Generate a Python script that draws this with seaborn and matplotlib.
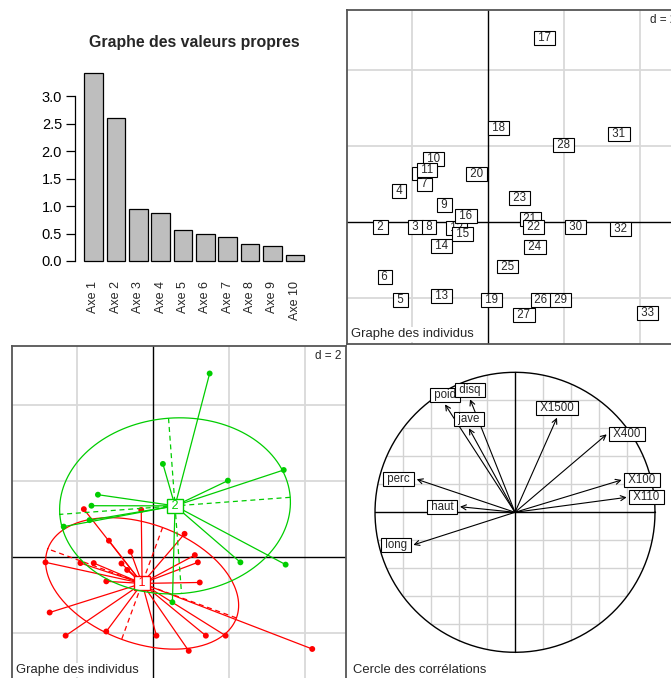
import numpy as np
import pandas as pd
import matplotlib
matplotlib.use("Agg")
import matplotlib.pyplot as plt
import seaborn as sns

# Valeurs propres de l'ACP
axe_names = [f"Axe {i}" for i in range(1, 11)]
eigenvalues = [3.42, 2.61, 0.94, 0.88, 0.56, 0.49, 0.43, 0.31, 0.27, 0.10]

# Coordonnées des individus (plan 1-2)
ind_labels = [str(i) for i in range(1, 34)]
ind_x = [-1.82, -2.83, -1.91, -2.35, -2.30, -2.72, -1.67, -1.56, -1.16, -1.45,
         -1.62, -0.83, -1.23, -1.23, -0.68, -0.59, 1.49, 0.26, 0.09, -0.31,
         1.10, 1.18, 0.83, 1.23, 0.51, 1.39, 0.94, 1.97, 1.91, 2.30,
         3.44, 3.49, 4.19]
ind_y = [1.27, -0.13, -0.15, 0.81, -2.06, -1.45, 0.98, -0.15, 0.44, 1.65,
         1.36, -0.16, -1.95, -0.63, -0.33, 0.15, 4.84, 2.46, -2.06, 1.25,
         0.06, -0.13, 0.62, -0.66, -1.18, -2.06, -2.46, 2.02, -2.06, -0.13,
         2.30, -0.19, -2.41]
ind_group = ["1", "1", "1", "2", "1", "1", "2", "1", "1", "2",
             "2", "1", "1", "1", "1", "1", "2", "2", "1", "1",
             "1", "1", "1", "1", "2", "1", "1", "2", "1", "2",
             "2", "2", "1"]

# Cercle des corrélations
var_names = ["X100", "long", "poid", "haut", "X400", "X110", "disq", "perc", "jave", "X1500"]
var_x = [0.762, -0.726, -0.500, -0.393, 0.655, 0.798, -0.321, -0.702, -0.329, 0.300]
var_y = [0.231, -0.233, 0.771, 0.040, 0.557, 0.107, 0.807, 0.236, 0.600, 0.676]

group_colors = {"1": "#FF0000", "2": "#00CD00"}

sns.set_theme(style="white")
plt.rcParams['font.family'] = ['Liberation Sans', 'DejaVu Sans']

W, H = 671, 678
fig = plt.figure(figsize=(W / 100, H / 100), dpi=100)


def px_rect(l, t, r, b):
    return [l / W, 1 - b / H, (r - l) / W, (b - t) / H]


def scatter_frame(ax):
    ax.set_xlim(-3.711, 5.089)
    ax.set_ylim(-3.229, 5.571)
    ax.set_xticks([])
    ax.set_yticks([])
    for s in ax.spines.values():
        s.set_visible(True)
        s.set_color("#555555")
        s.set_linewidth(1.3)
    for g in [-2, 2, 4]:
        ax.axvline(g, color="#D9D9D9", lw=1.3, zorder=0)
        ax.axhline(g, color="#D9D9D9", lw=1.3, zorder=0)
    ax.axvline(0, color="black", lw=1, zorder=1)
    ax.axhline(0, color="black", lw=1, zorder=1)
    ax.text(0.985, 0.988, "d = 2", transform=ax.transAxes, ha="right", va="top",
            fontsize=8.5, zorder=20,
            bbox=dict(boxstyle="square,pad=0.1", fc="white", ec="none"))
    ax.text(0.012, 0.012, "Graphe des individus", transform=ax.transAxes,
            ha="left", va="bottom", fontsize=9.4, zorder=20,
            bbox=dict(boxstyle="square,pad=0.1", fc="white", ec="none"))


# 1. Graphe des valeurs propres
ax1 = fig.add_axes(px_rect(75.2, 65.8, 313.1, 268.5))
sns.barplot(x=axe_names, y=eigenvalues, color="#BEBEBE", edgecolor="black",
            linewidth=0.9, width=1 / 1.2, saturation=1, ax=ax1)
ax1.set_xlim(-0.8167, 9.8167)
ax1.set_ylim(-0.137, 3.555)
for s in ["top", "right", "bottom"]:
    ax1.spines[s].set_visible(False)
ax1.spines["left"].set_bounds(0, 3)
ax1.spines["left"].set_color("black")
ax1.spines["left"].set_linewidth(0.9)
ax1.set_yticks([0, 0.5, 1, 1.5, 2, 2.5, 3])
ax1.set_yticklabels(["0.0", "0.5", "1.0", "1.5", "2.0", "2.5", "3.0"])
ax1.tick_params(axis="y", left=True, length=6.5, width=0.9, labelsize=10.5, pad=3, colors="black")
ax1.tick_params(axis="x", bottom=False, length=0, labelrotation=90, labelsize=9, pad=9)
ax1.set_xlabel("")
ax1.set_ylabel("")
fig.text(194 / W, 1 - 42 / H, "Graphe des valeurs propres", ha="center", va="center",
         fontsize=11.4, fontweight="bold")

# 2. Graphe des individus (étiquettes)
ax2 = fig.add_axes(px_rect(347.3, 10, 681.7, 344.4))
scatter_frame(ax2)
for i, lab in enumerate(ind_labels):
    ax2.text(ind_x[i], ind_y[i], f" {lab} ", ha="center", va="center", fontsize=8.3,
             zorder=5 + i * 0.01,
             bbox=dict(boxstyle="square,pad=0.08", fc="white", ec="black", lw=0.8))

# 3. Graphe des individus (classes)
ax3 = fig.add_axes(px_rect(12, 345.7, 346.4, 680.1))
scatter_frame(ax3)
df = pd.DataFrame({"x": ind_x, "y": ind_y, "group": ind_group})
for k, g in enumerate(["1", "2"]):
    sub = df[df["group"] == g]
    col = group_colors[g]
    mx, my = sub["x"].mean(), sub["y"].mean()
    z = 3 + k * 3
    for _, r in sub.iterrows():
        ax3.plot([mx, r["x"]], [my, r["y"]], color=col, lw=0.9, zorder=z)
    cov = np.cov(np.vstack([sub["x"], sub["y"]]), bias=True)
    vals, vecs = np.linalg.eigh(cov)
    a, b = 1.5 * np.sqrt(vals[1]), 1.5 * np.sqrt(vals[0])
    u, v = vecs[:, 1], vecs[:, 0]
    t = np.linspace(0, 2 * np.pi, 300)
    ax3.plot(mx + a * np.cos(t) * u[0] + b * np.sin(t) * v[0],
             my + a * np.cos(t) * u[1] + b * np.sin(t) * v[1], color=col, lw=0.9, zorder=z)
    ax3.plot([mx - a * u[0], mx + a * u[0]], [my - a * u[1], my + a * u[1]],
             color=col, lw=0.9, ls=(0, (4, 3)), zorder=z)
    ax3.plot([mx - b * v[0], mx + b * v[0]], [my - b * v[1], my + b * v[1]],
             color=col, lw=0.9, ls=(0, (4, 3)), zorder=z)
    sns.scatterplot(data=sub, x="x", y="y", color=col, s=18, edgecolor="none",
                    legend=False, ax=ax3, zorder=z + 1)
    ax3.text(mx, my, f" {g} ", ha="center", va="center", fontsize=9, color=col,
             zorder=z + 2,
             bbox=dict(boxstyle="square,pad=0.08", fc="white", ec=col, lw=1))
ax3.set_xlabel("")
ax3.set_ylabel("")
ax3.set_xlim(-3.711, 5.089)
ax3.set_ylim(-3.229, 5.571)

# 4. Cercle des corrélations
ax4 = fig.add_axes(px_rect(347, 344.3, 683, 680.3))
ax4.set_xlim(-1.2, 1.2)
ax4.set_ylim(-1.2, 1.2)
ax4.axis("off")
for g in np.arange(-0.8, 0.81, 0.2):
    if abs(g) < 1e-9:
        continue
    h = np.sqrt(1 - g ** 2)
    ax4.plot([g, g], [-h, h], color="#D3D3D3", lw=1, zorder=0)
    ax4.plot([-h, h], [g, g], color="#D3D3D3", lw=1, zorder=0)
ax4.plot([-1, 1], [0, 0], color="black", lw=1, zorder=1)
ax4.plot([0, 0], [-1, 1], color="black", lw=1, zorder=1)
t = np.linspace(0, 2 * np.pi, 400)
ax4.plot(np.cos(t), np.sin(t), color="black", lw=1, zorder=1)
for name, x, y in zip(var_names, var_x, var_y):
    ax4.annotate("", xy=(x, y), xytext=(0, 0),
                 arrowprops=dict(arrowstyle="->", color="black", lw=0.8,
                                 mutation_scale=9, shrinkA=0, shrinkB=0), zorder=2)
    if abs(y) > abs(x):
        off, ha, va = (0, 2.5 * np.sign(y)), "center", ("bottom" if y > 0 else "top")
    else:
        off, ha, va = (2.5 * np.sign(x), 0), ("left" if x > 0 else "right"), "center"
    ax4.annotate(f" {name} ", xy=(x, y), xytext=off, textcoords="offset points",
                 ha=ha, va=va, fontsize=8.3, zorder=3,
                 bbox=dict(boxstyle="square,pad=0.08", fc="white", ec="black", lw=0.8))
fig.text(352.7 / W, 1 - 670 / H, "Cercle des corrélations", ha="left", va="center",
         fontsize=9.4)

fig.savefig("out.png", dpi=100)
